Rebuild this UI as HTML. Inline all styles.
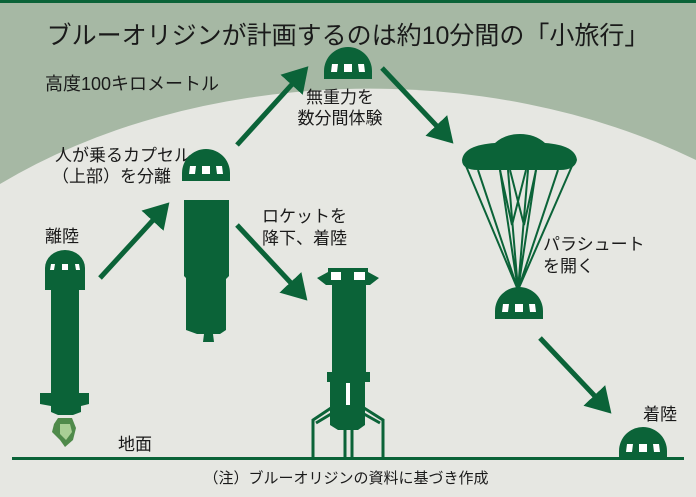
<!DOCTYPE html>
<html><head><meta charset="utf-8"><style>
html,body{margin:0;padding:0;width:696px;height:497px;overflow:hidden}
svg{display:block}
svg text{font-family:"Liberation Sans","Noto Sans CJK JP",sans-serif;fill:#1a1a1a}
</style></head><body>
<svg width="696" height="497" viewBox="0 0 696 497" xmlns="http://www.w3.org/2000/svg">
<defs>
<marker id="ah" markerWidth="6" markerHeight="6" refX="4" refY="3" orient="auto" markerUnits="strokeWidth">
<path d="M0,0 L5,3 L0,6 Z" fill="#0b6338"/></marker>
<g id="cap">
<path d="M-24,0 L-24,-8 A24,24 0 0 1 24,-8 L24,0 Z" fill="#0b6338"/>
<path d="M-16,-15 L-10,-15 L-11,-7 L-17,-7 Z M-4,-15 L4,-15 L4,-7 L-4,-7 Z M10,-15 L16,-15 L17,-7 L11,-7 Z" fill="#fff"/>
</g>
</defs>
<rect width="696" height="497" fill="#a6b8a4"/>
<rect x="0" y="0" width="696" height="3" fill="#0b6338"/>
<path d="M0,184 A560,382 0 0 1 696,160 L696,497 L0,497 Z" fill="#e6e7e2"/>
<text x="348" y="44" font-size="25" text-anchor="middle">ブルーオリジンが計画するのは約10分間の「小旅行」</text>
<text x="45" y="90" font-size="18">高度100キロメートル</text>
<use href="#cap" x="348" y="79"/>
<text x="340" y="103" font-size="17" text-anchor="middle">無重力を</text>
<text x="340" y="124" font-size="17" text-anchor="middle">数分間体験</text>
<text x="55" y="161" font-size="17">人が乗るカプセル</text>
<text x="52" y="182" font-size="17">（上部）を分離</text>
<use href="#cap" x="206" y="181"/>
<path d="M184,200 L229,200 L229,276 L226,279 L226,330 L220,334 L213,334 L214,342 L203,342 L204,334 L197,334 L186,330 L186,278 L184,276 Z" fill="#0b6338"/>
<text x="45" y="242" font-size="17">離陸</text>
<path d="M45,290 L45,268 A20,18 0 0 1 85,268 L85,290 L79,290 L79,393 L89,393 L89,404 L81,406 L81,412 L73,415 L58,415 L51,412 L51,406 L40,404 L40,393 L51,393 L51,290 Z" fill="#0b6338"/>
<path d="M51,264 L55,264 L54,270 L50,270 Z M62,264 L68,264 L68,270 L62,270 Z M75,264 L79,264 L80,270 L76,270 Z" fill="#fff"/>
<path d="M58,418 L72,418 L76,428 L73,440 L65,447 L60,440 L52,432 L54,424 Z" fill="#4f8a4a"/>
<path d="M60,424 L70,424 L72,432 L66,440 L60,434 Z" fill="#a9cf95"/>
<g stroke="#0b6338" stroke-width="5" fill="none" marker-end="url(#ah)">
<line x1="100" y1="278" x2="166" y2="206"/>
<line x1="237" y1="145" x2="305" y2="70"/>
<line x1="382" y1="68" x2="450" y2="140"/>
<line x1="237" y1="225" x2="304" y2="297"/>
<line x1="540" y1="338" x2="608" y2="410"/>
</g>
<text x="262" y="222" font-size="17">ロケットを</text>
<text x="262" y="244" font-size="17">降下、着陸</text>
<path d="M328,268 L368,268 L368,272 L379,278 L370,285 L366,285 L366,372 L370,372 L370,382 L365,382 L365,425 L358,430 L338,430 L330,425 L330,382 L327,382 L327,372 L332,372 L332,285 L326,285 L317,278 L328,272 Z" fill="#0b6338"/>
<path d="M331,272 L341,272 L341,280 L331,280 Z M354,272 L365,272 L365,280 L354,280 Z M346,383 L350,383 L350,405 L346,405 Z" fill="#fff"/>
<g stroke="#0b6338" stroke-width="3" fill="none">
<path d="M331,408 L313,420 L313,458 M331,414 L316,423"/>
<path d="M364,408 L383,420 L383,458 M364,414 L380,423"/>
<path d="M345,428 L345,458 M352,428 L352,458"/>
</g>
<g stroke="#0b6338" stroke-width="2" fill="none">
<path d="M466,166 L518,290 M478,170 L518,290 M500,170 L518,290 M508,170 L518,290 M528,170 L518,290 M536,170 L518,290 M558,170 L518,290 M572,166 L518,290"/>
<path d="M500,170 L512,225 L526,170 M510,170 L524,225 L536,170"/>
</g>
<path d="M462,160 Q464,145 495,143 Q505,134 520,134 Q535,134 545,143 Q575,145 577,160 Q575,170 560,170 L478,170 Q462,170 462,160 Z" fill="#0b6338"/>
<use href="#cap" x="519" y="319"/>
<text x="543" y="250" font-size="17">パラシュート</text>
<text x="543" y="272" font-size="17">を開く</text>
<text x="643" y="420" font-size="17">着陸</text>
<use href="#cap" x="643" y="459"/>
<rect x="12" y="457" width="672" height="3" fill="#0b6338"/>
<text x="118" y="450" font-size="17">地面</text>
<text x="346" y="483" font-size="15" text-anchor="middle">（注）ブルーオリジンの資料に基づき作成</text>
</svg>
</body></html>
